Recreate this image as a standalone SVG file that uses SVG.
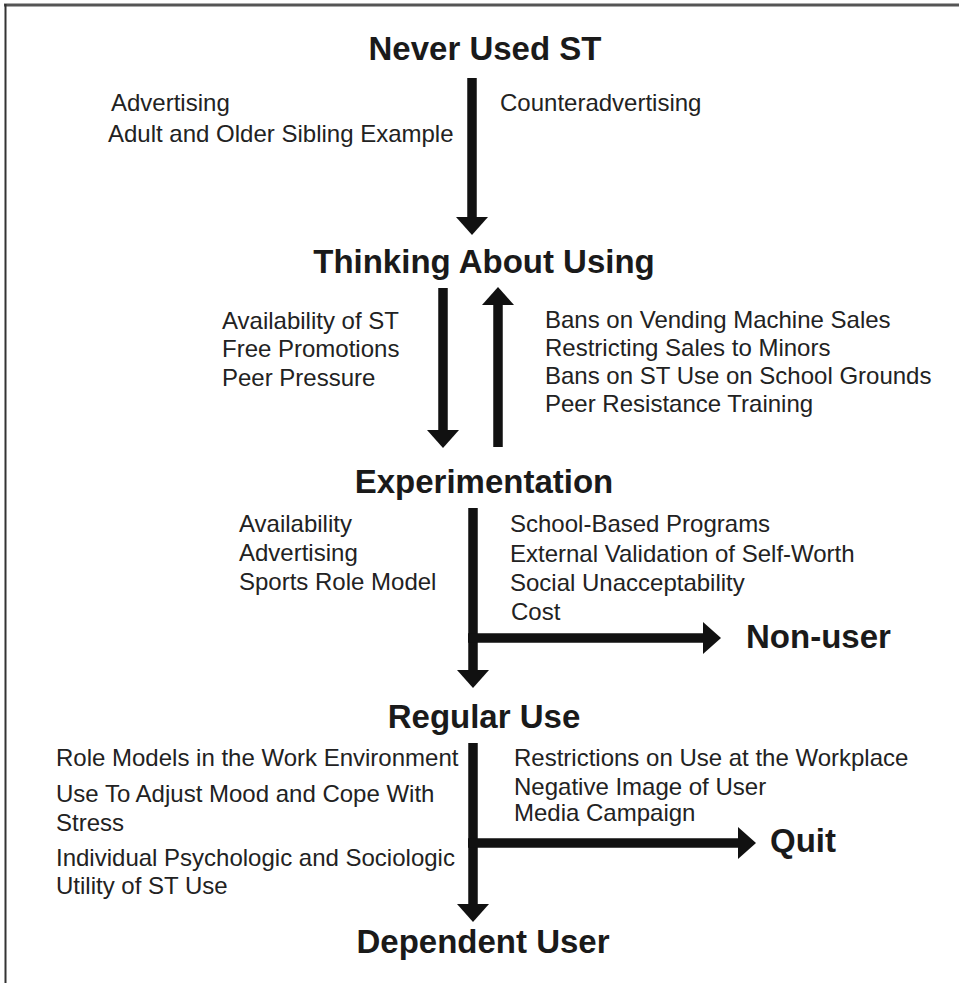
<svg xmlns="http://www.w3.org/2000/svg" width="959" height="983" viewBox="0 0 959 983">
<style>
  .h { font-family: "Liberation Sans", Arial, sans-serif; font-weight: bold; font-size: 33px; fill: #1a1a1a; text-anchor: middle; }
  .hl { font-family: "Liberation Sans", Arial, sans-serif; font-weight: bold; font-size: 33px; fill: #1a1a1a; }
  .t { font-family: "Liberation Sans", Arial, sans-serif; font-size: 24px; fill: #222; }
  .c { stroke: #111; stroke-width: 9.5; fill: none; marker-end: url(#ah); }
</style>
<defs>
  <marker id="ah" markerUnits="userSpaceOnUse" markerWidth="18" markerHeight="32" viewBox="0 0 18 32" refX="1" refY="16" orient="auto">
    <path d="M0,0 L18,16 L0,32 Z" fill="#111"/>
  </marker>
</defs>
<rect x="0" y="0" width="959" height="983" fill="#fff"/>
<g id="frame">
  <line x1="4" y1="5" x2="959" y2="5" stroke="#555" stroke-width="3"/>
  <line x1="5.5" y1="4" x2="5.5" y2="983" stroke="#333" stroke-width="2"/>
</g>
<g id="connectors">
  <line class="c" x1="472" y1="78" x2="472" y2="218"/>
  <line class="c" x1="443" y1="288" x2="443" y2="431"/>
  <line class="c" x1="498" y1="447" x2="498" y2="304"/>
  <line class="c" x1="473" y1="508" x2="473" y2="671"/>
  <line class="c" x1="468" y1="638" x2="704" y2="638"/>
  <line class="c" x1="473" y1="743" x2="473" y2="905"/>
  <line class="c" x1="468" y1="843" x2="739" y2="843"/>
</g>
<g id="never-used">
  <text class="h" x="485" y="60">Never Used ST</text>
</g>
<g id="labels-1">
  <text class="t" x="111" y="111">Advertising</text>
  <text class="t" x="108" y="142">Adult and Older Sibling Example</text>
  <text class="t" x="500" y="111">Counteradvertising</text>
</g>
<g id="thinking">
  <text class="h" x="484" y="273">Thinking About Using</text>
</g>
<g id="labels-2">
  <text class="t" x="222" y="329">Availability of ST</text>
  <text class="t" x="222" y="357">Free Promotions</text>
  <text class="t" x="222" y="386">Peer Pressure</text>
  <text class="t" x="545" y="328">Bans on Vending Machine Sales</text>
  <text class="t" x="545" y="356">Restricting Sales to Minors</text>
  <text class="t" x="545" y="384">Bans on ST Use on School Grounds</text>
  <text class="t" x="545" y="412">Peer Resistance Training</text>
</g>
<g id="experimentation">
  <text class="h" x="484" y="493">Experimentation</text>
</g>
<g id="labels-3">
  <text class="t" x="239" y="532">Availability</text>
  <text class="t" x="239" y="561">Advertising</text>
  <text class="t" x="239" y="590">Sports Role Model</text>
  <text class="t" x="510" y="532">School-Based Programs</text>
  <text class="t" x="510" y="562">External Validation of Self-Worth</text>
  <text class="t" x="510" y="591">Social Unacceptability</text>
  <text class="t" x="511" y="620">Cost</text>
</g>
<g id="non-user">
  <text class="hl" x="746" y="648">Non-user</text>
</g>
<g id="regular-use">
  <text class="h" x="484" y="728">Regular Use</text>
</g>
<g id="labels-4">
  <text class="t" x="56" y="766">Role Models in the Work Environment</text>
  <text class="t" x="56" y="802">Use To Adjust Mood and Cope With</text>
  <text class="t" x="56" y="831">Stress</text>
  <text class="t" x="56" y="866">Individual Psychologic and Sociologic</text>
  <text class="t" x="56" y="894">Utility of ST Use</text>
  <text class="t" x="514" y="766">Restrictions on Use at the Workplace</text>
  <text class="t" x="514" y="795">Negative Image of User</text>
  <text class="t" x="514" y="821">Media Campaign</text>
</g>
<g id="quit">
  <text class="hl" x="770" y="852">Quit</text>
</g>
<g id="dependent-user">
  <text class="h" x="483" y="953">Dependent User</text>
</g>
</svg>
